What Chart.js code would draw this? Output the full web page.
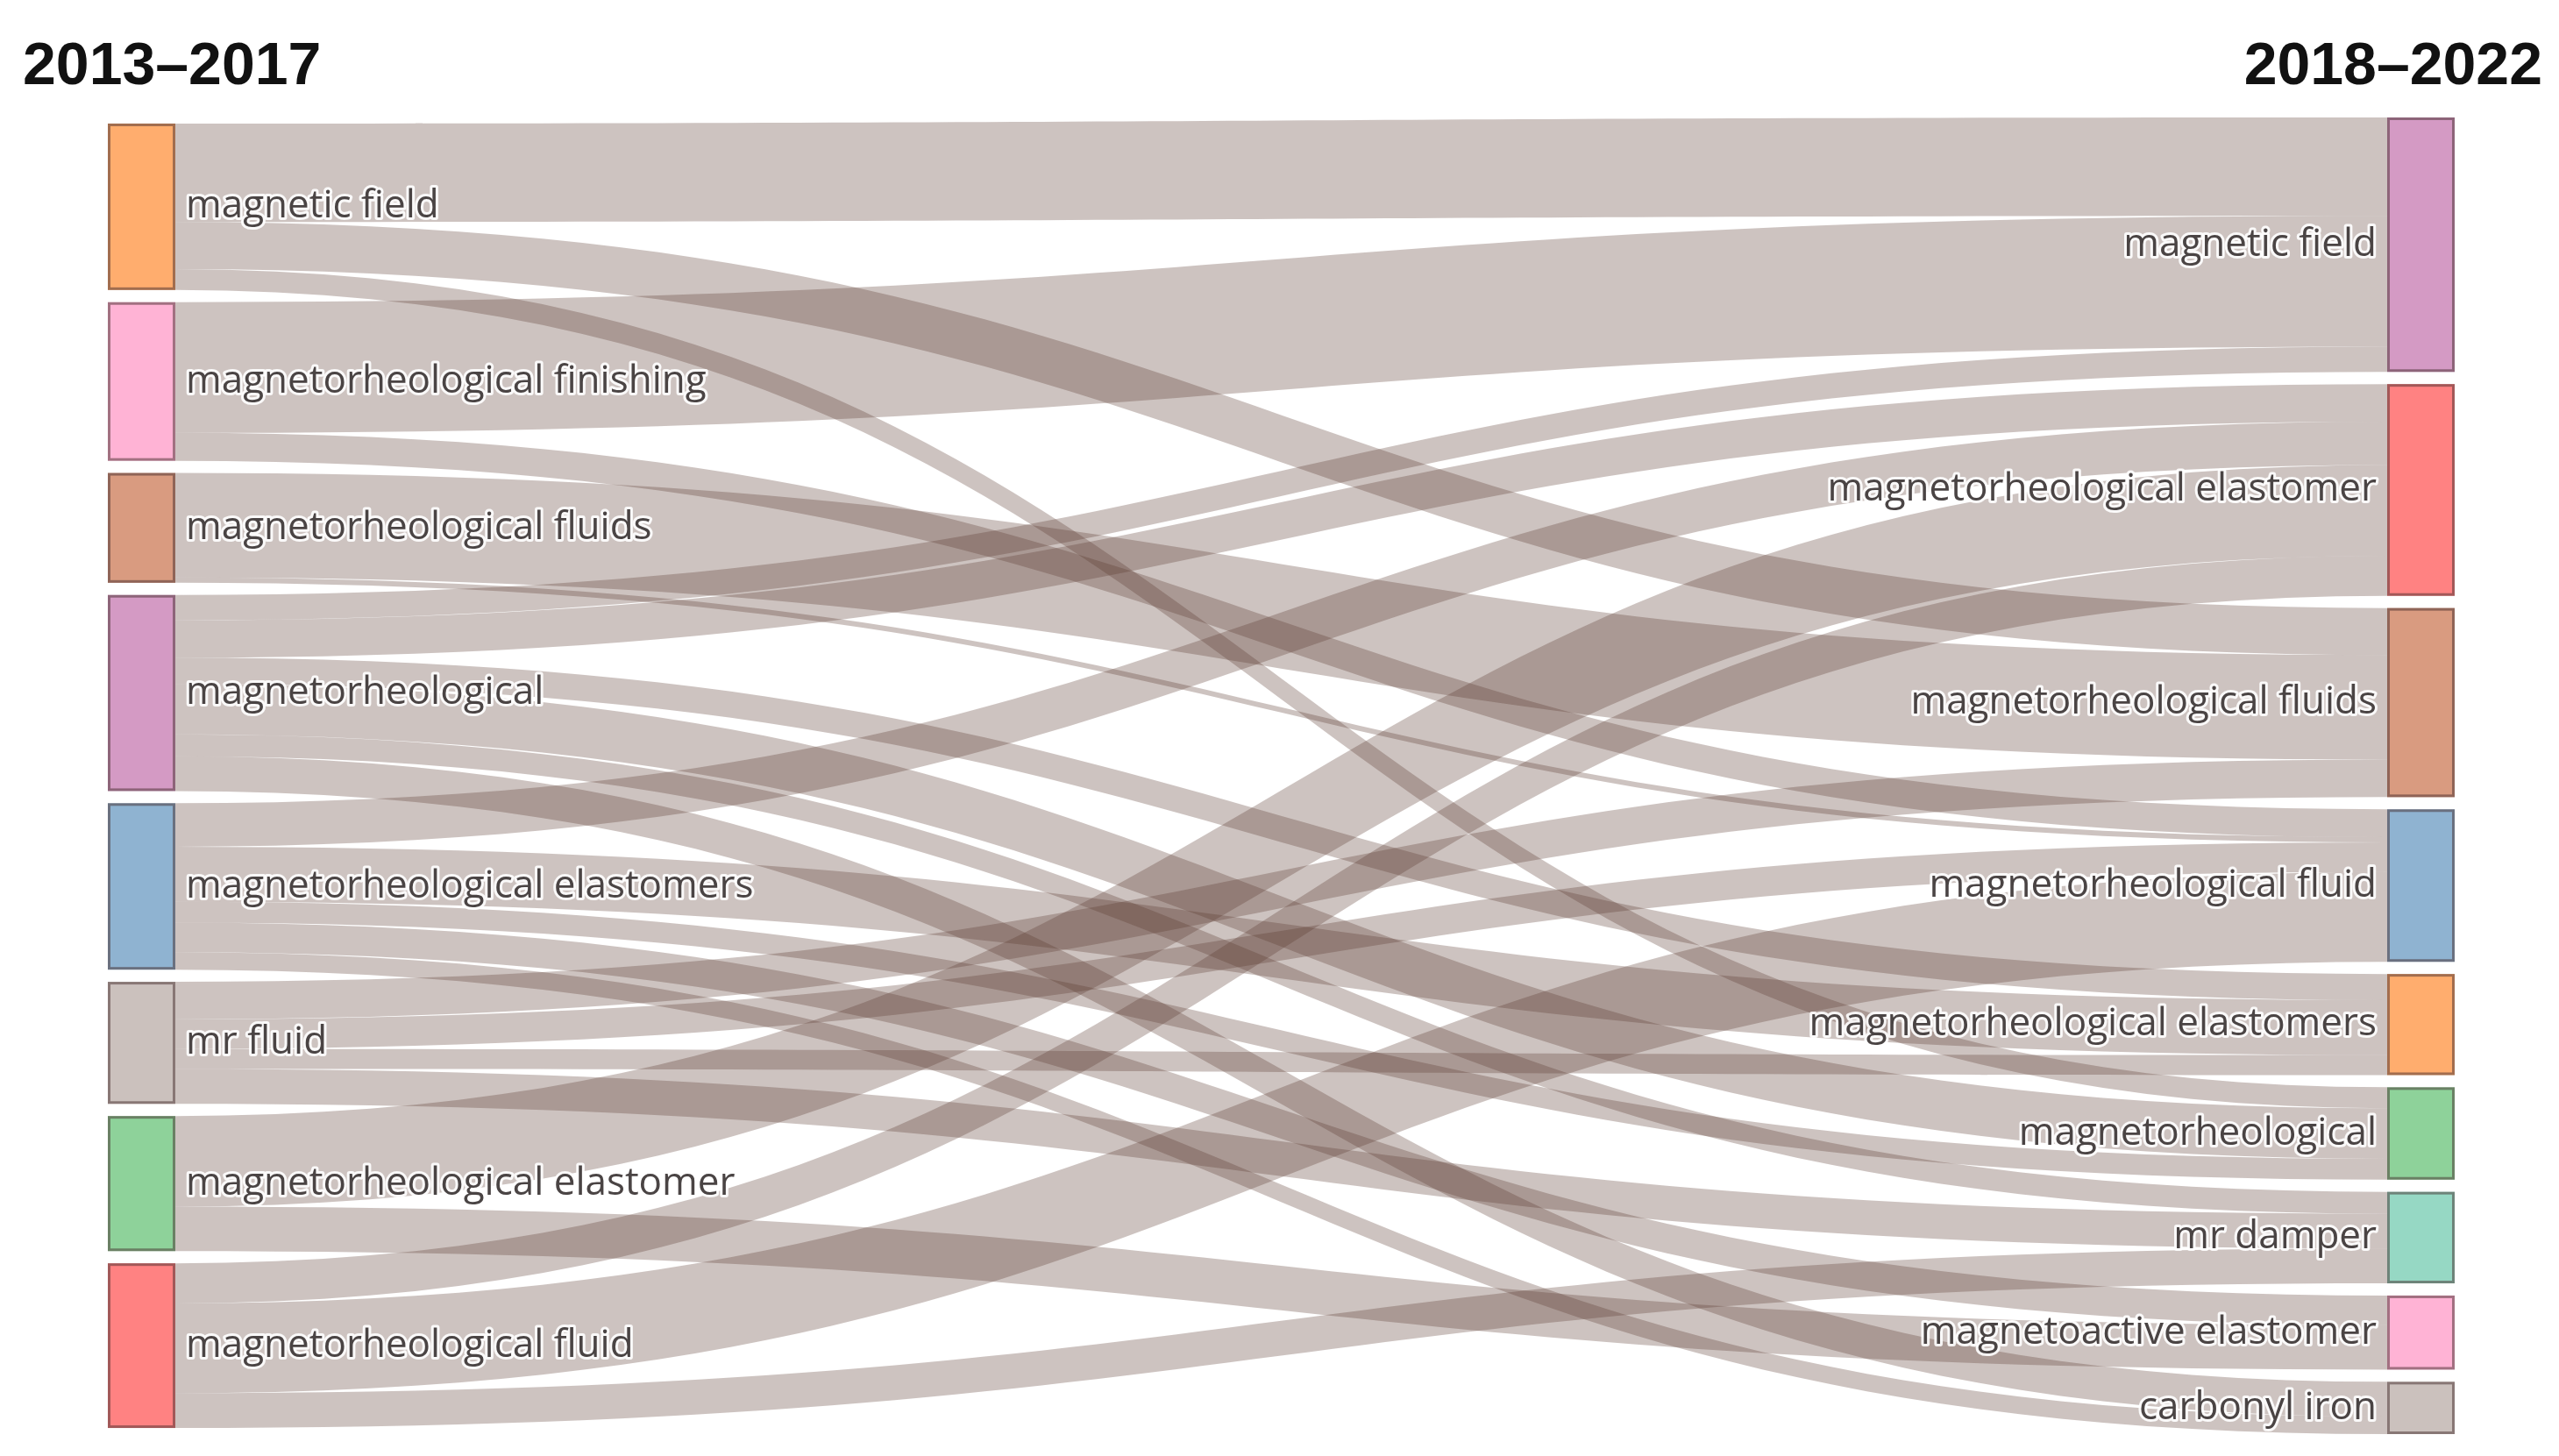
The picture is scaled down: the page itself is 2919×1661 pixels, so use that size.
<!DOCTYPE html>
<html>
<head>
<meta charset="utf-8">
<title>Keyword flow 2013–2017 to 2018–2022</title>
<script src="https://cdn.jsdelivr.net/npm/chart.js@4/dist/chart.umd.min.js"></script>
<style>
  html, body { margin: 0; padding: 0; background: #fff; }
  #wrap { width: 2919px; height: 1661px; }
</style>
</head>
<body>
<div id="wrap"><canvas id="sankey" width="2919" height="1661"></canvas></div>
<script>
// --- data -------------------------------------------------------------
const periods = ['2013–2017', '2018–2022'];

const leftKeywords = [
    'magnetic field',
    'magnetorheological finishing',
    'magnetorheological fluids',
    'magnetorheological',
    'magnetorheological elastomers',
    'mr fluid',
    'magnetorheological elastomer',
    'magnetorheological fluid'
];

const rightKeywords = [
    'magnetic field',
    'magnetorheological elastomer',
    'magnetorheological fluids',
    'magnetorheological fluid',
    'magnetorheological elastomers',
    'magnetorheological',
    'mr damper',
    'magnetoactive elastomer',
    'carbonyl iron'
];

// links: index into leftKeywords -> index into rightKeywords
const flowFrom  = [0, 0, 0,   1, 1,   2, 2,   3, 3, 3, 3, 3, 3,   4, 4, 4, 4, 4,   5, 5, 5, 5,   6, 6,   7, 7, 7];
const flowTo    = [0, 2, 5,   0, 3,   2, 3,   0, 1, 4, 5, 6, 8,   1, 4, 5, 7, 8,   2, 3, 4, 6,   1, 7,   1, 3, 6];
const flowValue = [113, 54, 24, 150, 32, 120, 6, 29, 43, 30, 58, 25, 40, 50, 63, 24, 34, 20, 43, 34, 23, 40, 104, 51, 46, 103, 40];

// --- style ------------------------------------------------------------
const leftColors  = ['#ffad6e', '#ffb3d5', '#d99b80', '#d49ac4', '#8fb3d1', '#cbc1bd', '#8ed29a', '#ff8282'];
const rightColors = ['#d49ac4', '#ff8282', '#d99b80', '#8fb3d1', '#ffad6e', '#8ed29a', '#96d8c4', '#ffb3d5', '#cbc1bd'];
const LINK_COLOR  = 'rgba(90, 55, 45, 0.3)';
const NODE_BORDER = 'rgba(70, 45, 45, 0.5)';
const NODE_WIDTH  = 77;  // px
const NODE_PAD    = 14;  // in value units (scale is ~1px per unit)

// --- layout helpers ---------------------------------------------------
const sum = arr => arr.reduce((a, b) => a + b, 0);

const leftTotals  = leftKeywords.map((_, i) => sum(flowValue.filter((v, k) => flowFrom[k] === i)));
const rightTotals = rightKeywords.map((_, j) => sum(flowValue.filter((v, k) => flowTo[k] === j)));

const leftSpan  = sum(leftTotals)  + (leftKeywords.length  - 1) * NODE_PAD;
const rightSpan = sum(rightTotals) + (rightKeywords.length - 1) * NODE_PAD;
const colSpan   = Math.max(leftSpan, rightSpan);

function stackColumn(totals, span) {
    let y = (colSpan - span) / 2;
    return totals.map(t => { const top = y; y += t + NODE_PAD; return top; });
}
const leftTops  = stackColumn(leftTotals, leftSpan);
const rightTops = stackColumn(rightTotals, rightSpan);

// band offsets: at a source, links ordered by target; at a target, by source
const linkSrcY = new Array(flowValue.length);
const linkTgtY = new Array(flowValue.length);
leftKeywords.forEach((_, i) => {
    let y = leftTops[i];
    flowValue.map((v, k) => k).filter(k => flowFrom[k] === i)
        .sort((a, b) => flowTo[a] - flowTo[b])
        .forEach(k => { linkSrcY[k] = y; y += flowValue[k]; });
});
rightKeywords.forEach((_, j) => {
    let y = rightTops[j];
    flowValue.map((v, k) => k).filter(k => flowTo[k] === j)
        .sort((a, b) => flowFrom[a] - flowFrom[b])
        .forEach(k => { linkTgtY[k] = y; y += flowValue[k]; });
});

// --- drawing plugin ---------------------------------------------------
const sankeyPlugin = {
    id: 'sankeyDraw',
    afterDraw(chart) {
        const { ctx, scales: { x, y } } = chart;
        const xL0 = x.getPixelForValue(0);
        const xL1 = xL0 + NODE_WIDTH;
        const xR1 = x.getPixelForValue(1);
        const xR0 = xR1 - NODE_WIDTH;
        const xm  = (xL1 + xR0) / 2;
        const py  = v => y.getPixelForValue(v);

        ctx.save();

        // links
        ctx.fillStyle = LINK_COLOR;
        flowValue.forEach((v, k) => {
            const s0 = py(linkSrcY[k]), s1 = py(linkSrcY[k] + v);
            const t0 = py(linkTgtY[k]), t1 = py(linkTgtY[k] + v);
            ctx.beginPath();
            ctx.moveTo(xL1, s0);
            ctx.bezierCurveTo(xm, s0, xm, t0, xR0, t0);
            ctx.lineTo(xR0, t1);
            ctx.bezierCurveTo(xm, t1, xm, s1, xL1, s1);
            ctx.closePath();
            ctx.fill();
        });

        // nodes
        ctx.lineWidth = 3;
        ctx.strokeStyle = NODE_BORDER;
        const drawNode = (x0, top, val, color) => {
            const y0 = py(top), y1 = py(top + val);
            ctx.fillStyle = color;
            ctx.fillRect(x0, y0, NODE_WIDTH, y1 - y0);
            ctx.strokeRect(x0 + 1.5, y0 + 1.5, NODE_WIDTH - 3, y1 - y0 - 3);
        };
        leftTotals.forEach((t, i) => drawNode(xL0, leftTops[i], t, leftColors[i]));
        rightTotals.forEach((t, j) => drawNode(xR0, rightTops[j], t, rightColors[j]));

        // node labels with a white halo
        ctx.font = '44px "Open Sans", sans-serif';
        ctx.textBaseline = 'middle';
        ctx.lineJoin = 'round';
        const label = (text, xx, yy, align) => {
            ctx.textAlign = align;
            ctx.lineWidth = 6;
            ctx.strokeStyle = 'rgba(255,255,255,0.9)';
            ctx.strokeText(text, xx, yy);
            ctx.fillStyle = '#4a4444';
            ctx.fillText(text, xx, yy);
        };
        leftKeywords.forEach((name, i) =>
            label(name, xL1 + 12, py(leftTops[i] + leftTotals[i] / 2), 'left'));
        rightKeywords.forEach((name, j) =>
            label(name, xR0 - 12, py(rightTops[j] + rightTotals[j] / 2), 'right'));

        // period headers
        ctx.font = 'bold 68px "Liberation Sans", Arial, sans-serif';
        ctx.fillStyle = '#111';
        ctx.textBaseline = 'alphabetic';
        ctx.textAlign = 'left';
        ctx.fillText(periods[0], 26, 96);
        ctx.textAlign = 'right';
        ctx.fillText(periods[1], 2900, 96);

        ctx.restore();
    }
};

new Chart(document.getElementById('sankey'), {
    type: 'scatter',
    data: { datasets: [{ data: [] }] },
    options: {
        responsive: false,
        animation: false,
        events: [],
        layout: { padding: { top: 134, bottom: 25, left: 123, right: 119 } },
        plugins: { legend: { display: false }, tooltip: { enabled: false } },
        scales: {
            x: { type: 'linear', min: 0, max: 1, display: false },
            y: { type: 'linear', min: 0, max: colSpan, reverse: true, display: false }
        }
    },
    plugins: [sankeyPlugin]
});
</script>
</body>
</html>
